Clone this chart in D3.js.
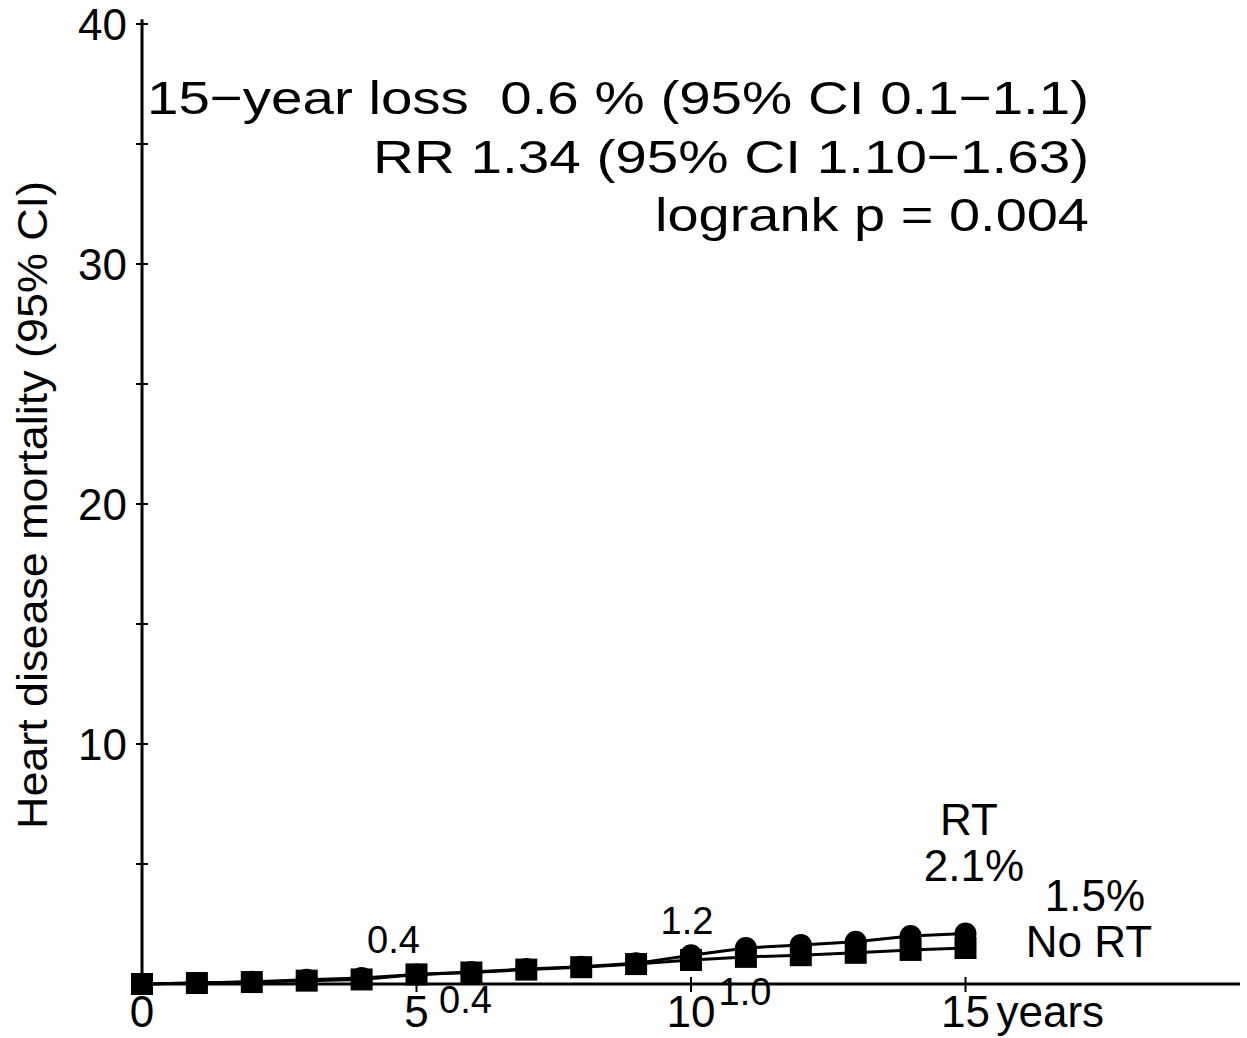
<!DOCTYPE html>
<html>
<head>
<meta charset="utf-8">
<script src="https://cdn.jsdelivr.net/npm/d3@7"></script>
<style>
  html, body { margin: 0; padding: 0; background: #fff; }
  svg text { font-family: Arial, "Liberation Sans", Helvetica, sans-serif; fill: #000; white-space: pre; }
</style>
</head>
<body>
<svg id="chart" width="1247" height="1038"></svg>
<script>
// Cumulative heart disease mortality (%) by year of follow-up
const years = [0, 1, 2, 3, 4, 5, 6, 7, 8, 9, 10, 11, 12, 13, 14, 15];
const rtValues   = [0, 0.04, 0.09, 0.18, 0.25, 0.4, 0.5, 0.62, 0.72, 0.86, 1.2, 1.5, 1.63, 1.76, 2.0, 2.1];
const noRtValues = [0, 0.04, 0.08, 0.14, 0.19, 0.4, 0.48, 0.6, 0.7, 0.83, 1.0, 1.13, 1.2, 1.3, 1.42, 1.5];

const xTickValues = [0, 5, 10, 15];
const yMajorTicks = [10, 20, 30, 40];
const yMinorTicks = [5, 15, 25, 35];

// Values printed at 5 and 10 years
const pointLabels = [
  { year: 5,  series: "rt",   dx: -23, above: true },
  { year: 5,  series: "nort", dx: 49,  above: false, base: 29 },
  { year: 10, series: "rt",   dx: -4,  above: true },
  { year: 10, series: "nort", dx: 54,  above: false, base: 21 }
];

const annotationLines = [
  "15\u2212year loss  0.6 % (95% CI 0.1\u22121.1)",
  "RR 1.34 (95% CI 1.10\u22121.63)",
  "logrank p = 0.004"
];

const svg = d3.select("#chart");

const x = d3.scaleLinear().domain([0, 20]).range([142, 1240]);
const y = d3.scaleLinear().domain([0, 40]).range([984, 24]);

// Axes
svg.append("line")
  .attr("x1", x(0)).attr("x2", x(0))
  .attr("y1", y(40.2)).attr("y2", y(0))
  .attr("stroke", "#000").attr("stroke-width", 3);
svg.append("line")
  .attr("x1", x(0)).attr("x2", x(20))
  .attr("y1", y(0)).attr("y2", y(0))
  .attr("stroke", "#000").attr("stroke-width", 3);

// Y ticks cross the axis
svg.selectAll(".ytick")
  .data(yMajorTicks.concat(yMinorTicks))
  .enter().append("line")
  .attr("x1", x(0) - 6).attr("x2", x(0) + 6)
  .attr("y1", d => y(d)).attr("y2", d => y(d))
  .attr("stroke", "#000").attr("stroke-width", 2);

svg.selectAll(".ylabel")
  .data(yMajorTicks)
  .enter().append("text")
  .attr("x", x(0) - 15)
  .attr("y", d => y(d) + 16)
  .attr("text-anchor", "end")
  .attr("font-size", 44)
  .text(d => d);

// X ticks cross the axis
svg.selectAll(".xtick")
  .data(xTickValues.filter(d => d > 0))
  .enter().append("line")
  .attr("x1", d => x(d)).attr("x2", d => x(d))
  .attr("y1", y(0) - 7).attr("y2", y(0) + 8)
  .attr("stroke", "#000").attr("stroke-width", 2);

svg.selectAll(".xlabel")
  .data(xTickValues)
  .enter().append("text")
  .attr("x", d => x(d))
  .attr("y", 1027)
  .attr("text-anchor", "middle")
  .attr("font-size", 44)
  .text(d => d);

svg.append("text")
  .attr("x", x(15) + 31)
  .attr("y", 1027)
  .attr("font-size", 44)
  .text("years");

// Y axis title
svg.append("text")
  .attr("transform", "translate(47,505) rotate(-90)")
  .attr("text-anchor", "middle")
  .attr("font-size", 42)
  .attr("textLength", 648)
  .attr("lengthAdjust", "spacingAndGlyphs")
  .text("Heart disease mortality (95% CI)");

// Series lines
const line = d3.line().x((d, i) => x(years[i])).y(d => y(d));
svg.append("path").datum(rtValues)
  .attr("d", line).attr("fill", "none")
  .attr("stroke", "#000").attr("stroke-width", 3);
svg.append("path").datum(noRtValues)
  .attr("d", line).attr("fill", "none")
  .attr("stroke", "#000").attr("stroke-width", 3);

// Markers: circles for RT, squares for No RT
svg.selectAll(".rt")
  .data(rtValues)
  .enter().append("circle")
  .attr("cx", (d, i) => x(years[i]))
  .attr("cy", d => y(d))
  .attr("r", 11)
  .attr("fill", "#000");

const sq = 22;
svg.selectAll(".nort")
  .data(noRtValues)
  .enter().append("rect")
  .attr("x", (d, i) => x(years[i]) - sq / 2)
  .attr("y", d => y(d) - sq / 2)
  .attr("width", sq).attr("height", sq)
  .attr("fill", "#000");

// Value labels at 5 and 10 years, read from the series
svg.selectAll(".plabel")
  .data(pointLabels)
  .enter().append("text")
  .attr("x", d => x(d.year) + d.dx)
  .attr("y", d => {
    const v = (d.series === "rt" ? rtValues : noRtValues)[years.indexOf(d.year)];
    return d.above ? y(v) - 21 : y(0) + d.base;
  })
  .attr("text-anchor", "middle")
  .attr("font-size", 38)
  .text(d => (d.series === "rt" ? rtValues : noRtValues)[years.indexOf(d.year)].toFixed(1));

// End-of-follow-up labels
const endLabels = [
  { text: "RT", x: 969, y: 835 },
  { text: rtValues[15].toFixed(1) + "%", x: 974, y: 881 },
  { text: noRtValues[15].toFixed(1) + "%", x: 1095, y: 911 },
  { text: "No RT", x: 1089, y: 957 }
];
svg.selectAll(".elabel")
  .data(endLabels)
  .enter().append("text")
  .attr("x", d => d.x).attr("y", d => d.y)
  .attr("text-anchor", "middle")
  .attr("font-size", 44)
  .text(d => d.text);

// Summary statistics
const annWidths = [942, 716, 434];
const annBase = [114, 173, 231];
svg.selectAll(".ann")
  .data(annotationLines)
  .enter().append("text")
  .attr("x", (d, i) => 1089 - annWidths[i])
  .attr("y", (d, i) => annBase[i])
  .attr("font-size", 47)
  .attr("textLength", (d, i) => annWidths[i])
  .attr("lengthAdjust", "spacingAndGlyphs")
  .text(d => d);
</script>
</body>
</html>
